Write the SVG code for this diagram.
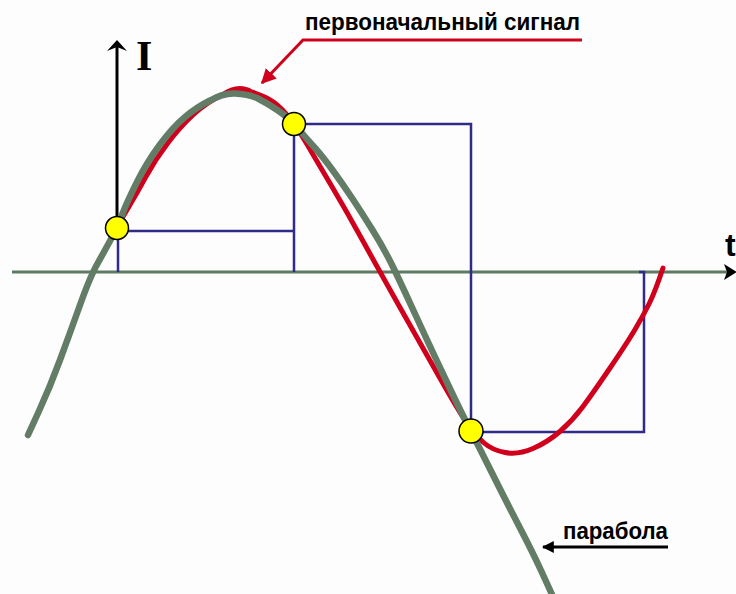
<svg xmlns="http://www.w3.org/2000/svg" width="736" height="594" viewBox="0 0 736 594">
<style>
.lbl{font-family:"Liberation Sans",Arial,sans-serif;font-weight:bold;fill:#000}
.step{fill:none;stroke:#2f2b87;stroke-width:2.5}
.dot{fill:#ffff00;stroke:#000;stroke-width:1.5}
</style>
<defs>
<marker id="ahRed" viewBox="0 0 10 10" refX="9" refY="5" markerWidth="5" markerHeight="5" markerUnits="strokeWidth" orient="auto">
<path d="M0,0 L10,5 L0,10 z" fill="#d0001c"/>
</marker>
<marker id="ahBlack" viewBox="0 0 10 10" refX="9" refY="5" markerWidth="4" markerHeight="5" markerUnits="strokeWidth" orient="auto">
<path d="M0,0 L10,5 L0,10 z" fill="#000"/>
</marker>
</defs>
<rect width="736" height="594" fill="#fdfdfd"/>

<g id="axes">
<line x1="12" y1="272" x2="728" y2="272" stroke="#5e7a62" stroke-width="3"/>
<path d="M724,264 L737,272 L724,280 L727,272 z" fill="#000"/>
<line x1="117" y1="228" x2="117" y2="46" stroke="#000" stroke-width="3"/>
<path d="M107,51 L117,40 L127,51 L117,47 z" fill="#000"/>
<text class="lbl" x="725" y="256" font-size="32">t</text>
<text x="136" y="70" font-family="'Liberation Serif','Times New Roman',serif" font-weight="bold" font-size="42" fill="#000">I</text>
</g>

<g id="steps">
<polyline class="step" points="118,272 118,231 294,231"/>
<polyline class="step" points="294,272 294,124 471,124 471,432 644,432 644,272 639,272"/>
</g>

<g id="signal">
<path d="M121,220 L129,206.5 Q137,193 146,176.5 Q155,160 167.5,143.5 Q180,127 193.5,114.5 Q207,102 222.5,95 Q238,84 251.5,92 Q265,96 273.5,102 Q282,108 291,120 Q300,132 307.5,145 Q315,158 331,185 Q347,212 363.5,242 Q380,272 400,307.5 Q420,343 439,376.5 Q458,410 466.5,422.5 Q475,435 483.5,442.5 Q492,450 505,452.5 Q518,455 533,448.5 Q548,442 560.5,431 Q573,420 583,406.5 Q593,393 610,368 Q627,343 635,329.5 Q643,316 649,304 Q655,292 663,268" fill="none" stroke="#d0001c" stroke-width="5" stroke-linecap="round" stroke-linejoin="round"/>
</g>

<g id="parabola">
<path d="M28,435 L39,411 Q50,387 60,360 Q70,333 80,305 Q90,277 97,264.5 Q104,252 110.5,240 Q117,228 122,215 Q127,202 137,182 Q147,162 160,144.5 Q173,127 185,117 Q197,107 210,100.5 Q223,93 235,93.5 Q247,94 257,98 Q267,103 278,110.5 Q289,118 298,128.5 Q307,139 315,148 Q323,157 332.5,170 Q342,183 351,196.5 Q360,210 372.5,230 Q385,250 395,271 Q405,292 416,316 Q427,340 443.5,375 Q460,410 468.5,426.5 Q477,443 492,473 Q507,503 520,528 Q533,553 541.5,571.5 Q550,590 554,599" fill="none" stroke="#627c66" stroke-width="6.5" stroke-linecap="round" stroke-linejoin="round"/>
</g>

<g id="samples">
<circle class="dot" cx="117" cy="228" r="11.5"/>
<circle class="dot" cx="294" cy="124" r="11.5"/>
<circle class="dot" cx="471" cy="431" r="12"/>
</g>

<g id="connectors">
<polyline points="582,40 303,40 262,83" fill="none" stroke="#d0001c" stroke-width="3" marker-end="url(#ahRed)"/>
<line x1="668" y1="547" x2="543" y2="547" stroke="#000" stroke-width="3" marker-end="url(#ahBlack)"/>
</g>

<g id="label-signal">
<text class="lbl" x="305" y="30" font-size="23" textLength="275" lengthAdjust="spacingAndGlyphs">первоначальный сигнал</text>
</g>
<g id="label-parabola">
<text class="lbl" x="563" y="539" font-size="23" textLength="105" lengthAdjust="spacingAndGlyphs">парабола</text>
</g>
</svg>
